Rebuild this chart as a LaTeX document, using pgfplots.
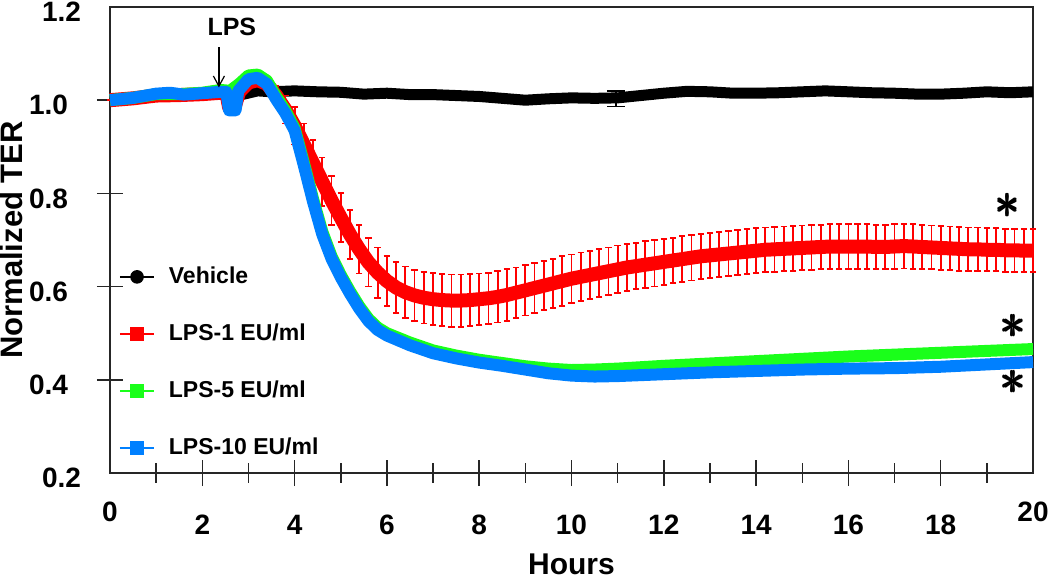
\documentclass[border=0pt]{standalone}
\usepackage{fontspec}
\setmainfont{Liberation Sans}
\usepackage{pgfplots}
\pgfplotsset{compat=1.18}
\usepackage{pgfplotstable}
\definecolor{cRed}{RGB}{255,0,0}
\definecolor{cGreen}{RGB}{26,255,26}
\definecolor{cBlue}{RGB}{0,128,255}
\newcommand{\bast}{\rlap{$\ast$}\rlap{\kern0.6pt$\ast$}\rlap{\raise0.6pt\hbox{$\ast$}}\rlap{\kern0.6pt\raise0.6pt\hbox{$\ast$}}\phantom{$\ast$}}

\pgfplotstableread{
h v
0 1.000
0.5 1.005
1.0 1.012
1.5 1.012
2.0 1.014
2.5 1.015
2.9 1.013
3.2 1.020
3.5 1.018
4.0 1.020
4.5 1.018
5.0 1.017
5.5 1.013
6.0 1.015
6.5 1.012
7.0 1.012
7.5 1.010
8.0 1.008
8.5 1.004
9.0 1.000
9.5 1.003
10.0 1.005
10.5 1.004
11.0 1.005
11.5 1.010
12.0 1.015
12.5 1.019
13.0 1.018
13.5 1.015
14.0 1.015
14.5 1.016
15.0 1.018
15.5 1.020
16.0 1.018
16.5 1.016
17.0 1.015
17.5 1.013
18.0 1.013
18.5 1.015
19.0 1.018
19.5 1.016
20.0 1.018
}\vehicle

\pgfplotstableread{
h v e
0 1.000 0
0.5 1.004 0
1.0 1.010 0
1.5 1.011 0
2.0 1.013 0
2.4 1.016 0
2.52 1.016 0
2.58 0.985 0
2.7 0.985 0
2.8 1.018 0
3.0 1.038 0.005
3.2 1.043 0.010
3.4 1.035 0.015
3.6 1.010 0.020
3.8 0.980 0.030
4.0 0.945 0.040
4.2 0.905 0.045
4.4 0.865 0.050
4.6 0.825 0.052
4.8 0.785 0.052
5.0 0.748 0.052
5.2 0.712 0.052
5.4 0.680 0.052
5.6 0.652 0.052
5.8 0.630 0.054
6.0 0.612 0.054
6.2 0.598 0.054
6.4 0.588 0.055
6.6 0.581 0.055
6.8 0.576 0.055
7.0 0.573 0.056
7.2 0.571 0.056
7.4 0.570 0.056
7.6 0.570 0.056
7.8 0.571 0.056
8.0 0.573 0.055
8.2 0.575 0.055
8.4 0.578 0.055
8.6 0.582 0.055
8.8 0.587 0.054
9.0 0.592 0.054
9.2 0.597 0.054
9.4 0.602 0.053
9.6 0.607 0.053
9.8 0.612 0.053
10.0 0.617 0.052
10.2 0.621 0.052
10.4 0.625 0.052
10.6 0.629 0.051
10.8 0.633 0.051
11.0 0.637 0.051
11.2 0.641 0.050
11.4 0.644 0.050
11.6 0.647 0.050
11.8 0.650 0.050
12.0 0.653 0.049
12.2 0.656 0.049
12.4 0.659 0.049
12.6 0.662 0.049
12.8 0.665 0.048
13.0 0.667 0.048
13.2 0.669 0.048
13.4 0.671 0.048
13.6 0.673 0.048
13.8 0.675 0.048
14.0 0.677 0.048
14.2 0.679 0.048
14.4 0.680 0.048
14.6 0.681 0.048
14.8 0.682 0.048
15.0 0.683 0.048
15.2 0.684 0.048
15.4 0.685 0.048
15.6 0.686 0.048
15.8 0.686 0.048
16.0 0.686 0.048
16.2 0.686 0.048
16.4 0.686 0.048
16.6 0.685 0.048
16.8 0.685 0.048
17.0 0.686 0.048
17.2 0.687 0.048
17.4 0.686 0.048
17.6 0.685 0.047
17.8 0.684 0.047
18.0 0.683 0.047
18.2 0.682 0.047
18.4 0.681 0.047
18.6 0.680 0.047
18.8 0.680 0.047
19.0 0.679 0.046
19.2 0.679 0.046
19.4 0.678 0.046
19.6 0.678 0.046
19.8 0.677 0.046
20.0 0.677 0.046
}\lpsone

\pgfplotstableread{
h v
0 1.000
0.5 1.005
1.0 1.013
1.5 1.013
2.0 1.016
2.4 1.022
2.6 1.020
2.8 1.035
3.0 1.053
3.2 1.055
3.4 1.042
3.6 1.008
3.8 0.978
4.0 0.940
4.2 0.866
4.4 0.788
4.6 0.718
4.8 0.665
5.0 0.625
5.2 0.590
5.4 0.558
5.6 0.531
5.8 0.512
6.0 0.500
6.5 0.480
7.0 0.463
7.5 0.452
8.0 0.443
8.5 0.436
9.0 0.429
9.5 0.424
10.0 0.421
10.5 0.422
11.0 0.424
12.0 0.430
13.0 0.435
14.0 0.440
15.0 0.445
16.0 0.450
17.0 0.454
18.0 0.458
19.0 0.462
20.0 0.466
}\lpsfive

\pgfplotstableread{
h v
0 1.000
0.5 1.005
1.0 1.014
1.3 1.016
1.6 1.012
2.0 1.015
2.4 1.018
2.52 1.018
2.58 0.978
2.72 0.978
2.78 1.020
3.0 1.045
3.2 1.048
3.4 1.035
3.6 1.002
3.8 0.972
4.0 0.935
4.2 0.860
4.4 0.782
4.6 0.712
4.8 0.660
5.0 0.620
5.2 0.585
5.4 0.553
5.6 0.526
5.8 0.507
6.0 0.495
6.5 0.474
7.0 0.457
7.5 0.446
8.0 0.437
8.5 0.430
9.0 0.422
9.5 0.414
10.0 0.409
10.5 0.407
11.0 0.408
11.5 0.410
12.0 0.412
13.0 0.416
14.0 0.419
15.0 0.422
16.0 0.424
17.0 0.425
18.0 0.428
19.0 0.433
20.0 0.438
}\lpsten

\pgfplotstableread{
h v e
10.96 1.003 0.017
}\vehbar

\begin{document}
\begin{tikzpicture}
\path[use as bounding box] (-55pt,-52.5pt) rectangle (470pt,236.5pt);
\begin{axis}[
  at={(0pt,0pt)}, anchor=south west,
  scale only axis, width=461.5pt, height=233pt,
  xmin=0, xmax=20, ymin=0.2, ymax=1.2,
  clip=false,
  axis line style={line width=0.75pt, black!85},
  major tick style={line width=0.75pt, black!85},
  minor tick style={line width=0.75pt, black!85},
  xtick={2,4,...,18}, minor xtick={1,3,...,19},
  extra x ticks={0,20},
  ytick={0.4,0.6,0.8,1.0}, extra y ticks={0.2,1.2},
  extra tick style={major tick length=0pt},
  tick align=center,
  major tick length=13pt, minor tick length=9.5pt,
  tick pos=left,
  /pgf/number format/assume math mode=true,
  ticklabel style={font=\bfseries\fontsize{14}{14}\selectfont},
  yticklabel style={/pgf/number format/fixed, /pgf/number format/fixed zerofill, /pgf/number format/precision=1, xshift=-11pt, yshift=-2.5pt},
  xticklabel style={yshift=-11pt},
  xlabel={Hours},
  xlabel style={font=\bfseries\fontsize{15}{15}\selectfont, at={(axis description cs:0.5,-0.196)}, anchor=center},
  ylabel={Normalized TER},
  ylabel style={font=\bfseries\fontsize{15.5}{15.5}\selectfont, at={(axis description cs:-0.107,0.5)}, anchor=center},
  legend style={at={(axis description cs:0.003,0.46)}, anchor=north west, draw=none, fill=none, row sep=14.7pt,
    font=\bfseries\fontsize{11.5}{13}\selectfont,
    /tikz/every odd column/.append style={column sep=5pt}},
  legend cell align=left,
]
\addplot[black, line width=5.5pt, line join=round, forget plot] table[x=h,y=v] {\vehicle};
\addplot[black, only marks, mark=none, forget plot, error bars/.cd, y dir=both, y explicit,
  error bar style={line width=0.7pt, black},
  error mark options={rotate=90, mark size=4.5pt, line width=0.7pt, black}]
  table[x=h, y=v, y error=e] {\vehbar};
\addplot[cRed, line width=7pt, line join=round, forget plot,
  error bars/.cd, y dir=both, y explicit,
  error bar style={line width=0.9pt, cRed},
  error mark options={rotate=90, mark size=1.6pt, line width=0.9pt, cRed}]
  table[x=h, y=v, y error=e] {\lpsone};
\addplot[cGreen, line width=6pt, line join=round, forget plot] table[x=h,y=v] {\lpsfive};
\addplot[cBlue, line width=6pt, line join=round, forget plot] table[x=h,y=v] {\lpsten};

\addlegendimage{black, line width=0.8pt, mark=*, mark size=3pt, mark options={solid, fill=black}}
\addlegendentry{Vehicle}
\addlegendimage{cRed, line width=0.8pt, mark=square*, mark size=3.3pt, mark options={solid, fill=cRed}}
\addlegendentry{LPS-1 EU/ml}
\addlegendimage{cGreen, line width=0.8pt, mark=square*, mark size=3.3pt, mark options={solid, fill=cGreen}}
\addlegendentry{LPS-5 EU/ml}
\addlegendimage{cBlue, line width=0.8pt, mark=square*, mark size=3.3pt, mark options={solid, fill=cBlue}}
\addlegendentry{LPS-10 EU/ml}

\node[font=\bfseries\fontsize{12.5}{12.5}\selectfont] at (axis cs:2.64,1.157) {LPS};
\draw[line width=0.6pt, black] (axis cs:2.36,1.114) -- (axis cs:2.36,1.03);
\draw[line width=0.6pt, black] (axis cs:2.24,1.052) -- (axis cs:2.36,1.03) -- (axis cs:2.48,1.052);
\node[inner sep=0pt, font=\fontsize{24}{24}\selectfont] at (axis cs:19.44,0.773) {\bast};
\node[inner sep=0pt, font=\fontsize{24}{24}\selectfont] at (axis cs:19.55,0.515) {\bast};
\node[inner sep=0pt, font=\fontsize{24}{24}\selectfont] at (axis cs:19.55,0.395) {\bast};
\end{axis}
\end{tikzpicture}
\end{document}
